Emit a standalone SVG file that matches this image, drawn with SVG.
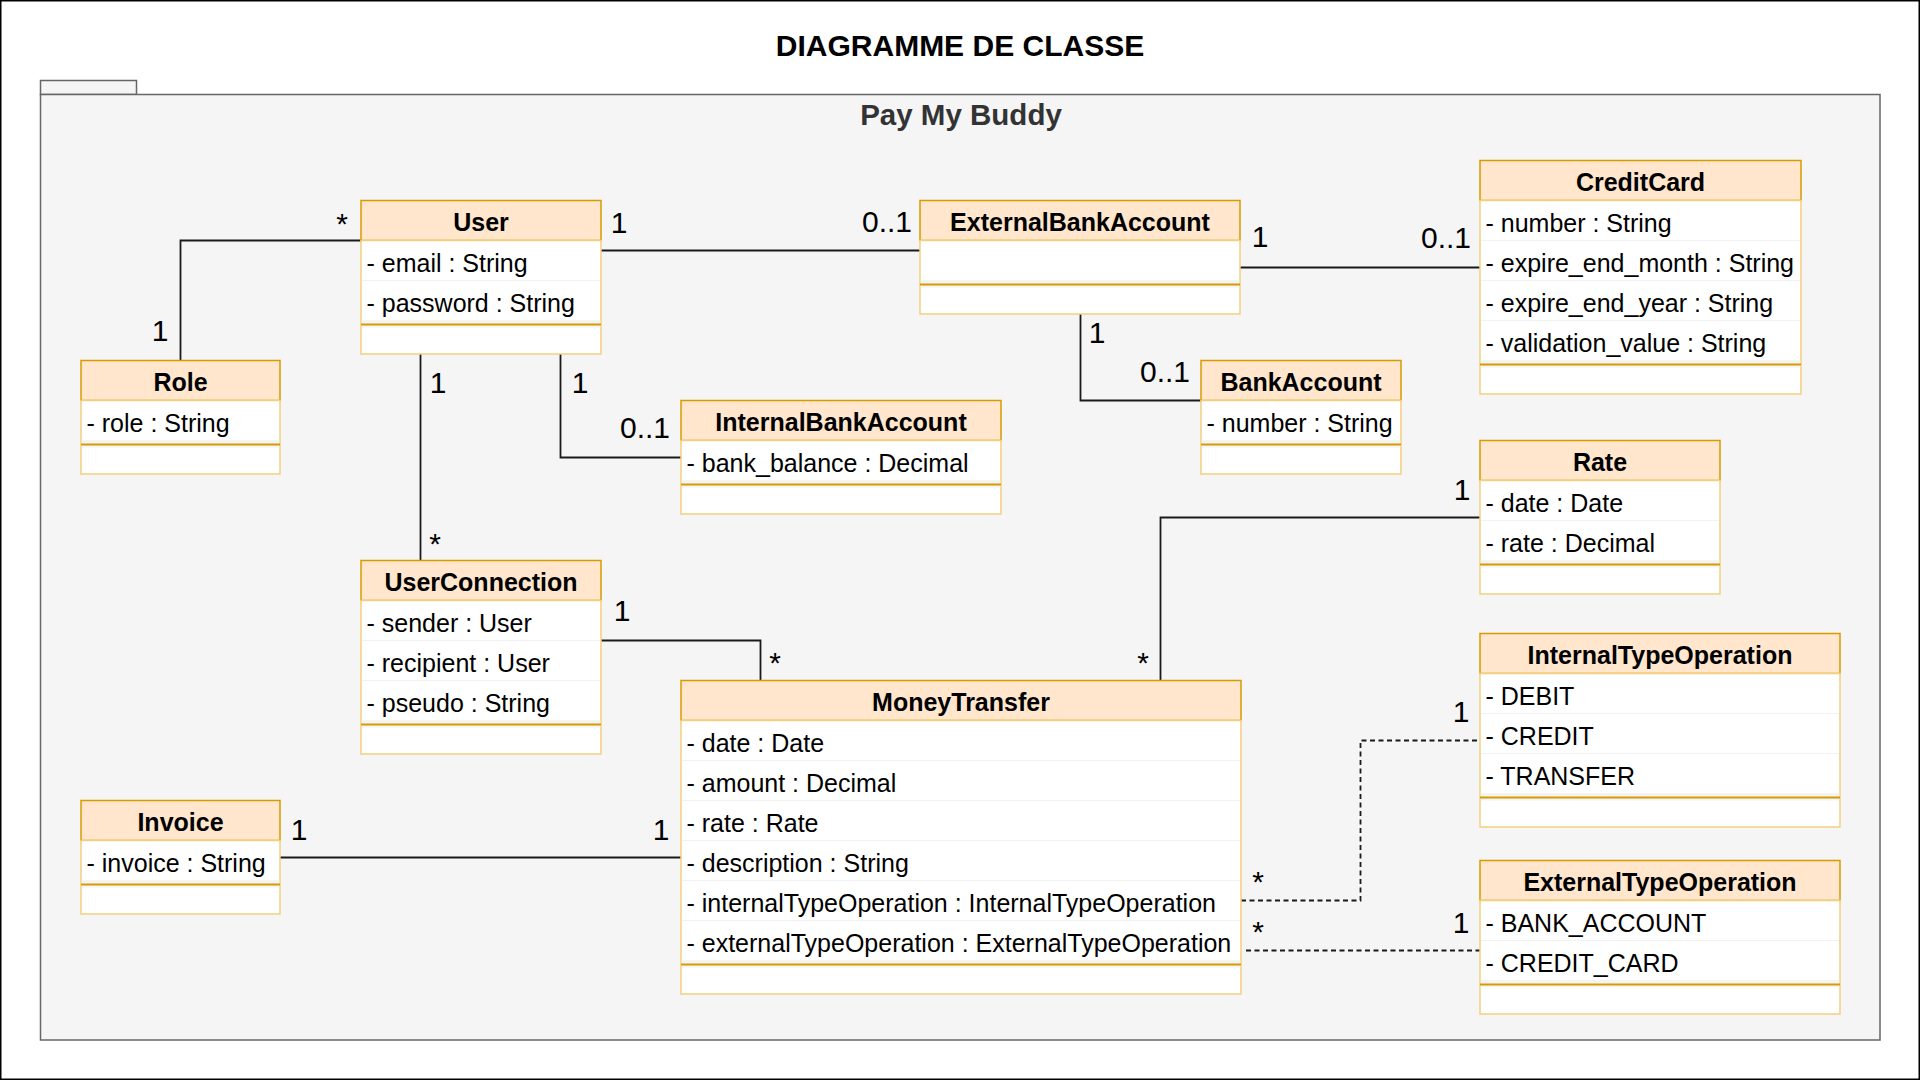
<svg xmlns="http://www.w3.org/2000/svg" width="1920" height="1080" viewBox="0 0 1920 1080">
<style>
.frame{fill:#ffffff;stroke:#000000;stroke-width:1.5}
.pkg{fill:#f5f5f5;stroke:#666666;stroke-width:1.5}
.title{font-family:"Liberation Sans",Arial,sans-serif;font-weight:bold;font-size:30px;fill:#000000}
.pkgname{font-family:"Liberation Sans",Arial,sans-serif;font-weight:bold;font-size:29.5px;fill:#333333}
.hdr{fill:#ffe6cc;stroke:#d79b00;stroke-width:1.5}
.body{fill:#ffffff;stroke:#f2cf7d;stroke-width:1.5}
.band{fill:#f4f4f4;stroke:none}
.sep{stroke:#d79b00;stroke-width:1.8;fill:none}
.rowline{stroke:#f1f1f1;stroke-width:1;fill:none}
.cname{font-family:"Liberation Sans",Arial,sans-serif;font-weight:bold;font-size:25px;fill:#000000;text-anchor:middle}
.attr{font-family:"Liberation Sans",Arial,sans-serif;font-size:25px;fill:#000000}
.conn{fill:none;stroke:#1a1a1a;stroke-width:1.8}
.dash{fill:none;stroke:#1a1a1a;stroke-width:1.8;stroke-dasharray:5 3.5}
.mult{font-family:"Liberation Sans",Arial,sans-serif;font-size:30px;fill:#000000}
.m{text-anchor:middle}
.e{text-anchor:end}
</style>
<rect class="frame" x="0.75" y="0.75" width="1918.5" height="1078.5"/>
<text class="title" x="960" y="56" text-anchor="middle">DIAGRAMME DE CLASSE</text>
<g id="package">
<rect class="pkg" x="40.5" y="80.5" width="96" height="14"/>
<rect class="pkg" x="40.5" y="94.5" width="1839.5" height="945.5"/>
<text class="pkgname" x="961" y="124.5" text-anchor="middle">Pay My Buddy</text>
</g>

<g id="connectors">
<path class="conn" d="M361,240.5 H180.5 V360.5"/>
<path class="conn" d="M601,250.5 H920"/>
<path class="conn" d="M420.5,354 V560"/>
<path class="conn" d="M560.5,354 V457.5 H681"/>
<path class="conn" d="M1240,267.5 H1480"/>
<path class="conn" d="M1080.5,314 V400.5 H1201"/>
<path class="conn" d="M1480,517.5 H1160.5 V680"/>
<path class="conn" d="M601,640.5 H760.5 V680"/>
<path class="conn" d="M280,857.5 H681"/>
<path class="dash" d="M1241,900.5 H1360.5 V740.5 H1480"/>
<path class="dash" d="M1246,950.5 H1480"/>
<text class="mult m" x="342" y="233.5">*</text>
<text class="mult m" x="160" y="341">1</text>
<text class="mult m" x="619" y="233">1</text>
<text class="mult e" x="912" y="232">0..1</text>
<text class="mult m" x="1260" y="247">1</text>
<text class="mult e" x="1471" y="248">0..1</text>
<text class="mult m" x="1097" y="343">1</text>
<text class="mult e" x="1190" y="382">0..1</text>
<text class="mult m" x="438" y="393">1</text>
<text class="mult m" x="580" y="393">1</text>
<text class="mult e" x="670" y="438">0..1</text>
<text class="mult m" x="435" y="553.5">*</text>
<text class="mult m" x="622" y="621">1</text>
<text class="mult m" x="775" y="673">*</text>
<text class="mult m" x="1143" y="673">*</text>
<text class="mult m" x="1462" y="499.5">1</text>
<text class="mult m" x="299" y="840">1</text>
<text class="mult m" x="661" y="840">1</text>
<text class="mult m" x="1258" y="891.5">*</text>
<text class="mult m" x="1258" y="941.5">*</text>
<text class="mult m" x="1461" y="933">1</text>
<text class="mult m" x="1461" y="722">1</text>
</g>

<g id="Role">
<rect class="hdr" x="81" y="360.5" width="199" height="40"/>
<rect class="body" x="81" y="400.5" width="199" height="73.5"/>
<rect class="band" x="81.8" y="440" width="197.4" height="7.5"/>
<line class="sep" x1="81" y1="444.5" x2="280" y2="444.5"/>
<text class="cname" x="180.5" y="391">Role</text>
<text class="attr" x="86.5" y="431.5">- role : String</text>
</g>

<g id="User">
<rect class="hdr" x="361" y="200.5" width="240" height="40"/>
<rect class="body" x="361" y="240.5" width="240" height="113.5"/>
<line class="rowline" x1="362" y1="280.5" x2="600" y2="280.5"/>
<rect class="band" x="361.8" y="320" width="238.4" height="7.5"/>
<line class="sep" x1="361" y1="324.5" x2="601" y2="324.5"/>
<text class="cname" x="481" y="231">User</text>
<text class="attr" x="366.5" y="271.5">- email : String</text>
<text class="attr" x="366.5" y="311.5">- password : String</text>
</g>

<g id="InternalBankAccount">
<rect class="hdr" x="681" y="400.5" width="320" height="40"/>
<rect class="body" x="681" y="440.5" width="320" height="73.5"/>
<rect class="band" x="681.8" y="480" width="318.4" height="7.5"/>
<line class="sep" x1="681" y1="484.5" x2="1001" y2="484.5"/>
<text class="cname" x="841" y="431">InternalBankAccount</text>
<text class="attr" x="686.5" y="471.5">- bank_balance : Decimal</text>
</g>

<g id="ExternalBankAccount">
<rect class="hdr" x="920" y="200.5" width="320" height="40"/>
<rect class="body" x="920" y="240.5" width="320" height="73.5"/>
<rect class="band" x="920.8" y="280" width="318.4" height="7.5"/>
<line class="sep" x1="920" y1="284.5" x2="1240" y2="284.5"/>
<text class="cname" x="1080" y="231">ExternalBankAccount</text>
</g>

<g id="CreditCard">
<rect class="hdr" x="1480" y="160.5" width="321" height="40"/>
<rect class="body" x="1480" y="200.5" width="321" height="193.5"/>
<line class="rowline" x1="1481" y1="240.5" x2="1800" y2="240.5"/>
<line class="rowline" x1="1481" y1="280.5" x2="1800" y2="280.5"/>
<line class="rowline" x1="1481" y1="320.5" x2="1800" y2="320.5"/>
<rect class="band" x="1480.8" y="360" width="319.4" height="7.5"/>
<line class="sep" x1="1480" y1="364.5" x2="1801" y2="364.5"/>
<text class="cname" x="1640.5" y="191">CreditCard</text>
<text class="attr" x="1485.5" y="231.5">- number : String</text>
<text class="attr" x="1485.5" y="271.5">- expire_end_month : String</text>
<text class="attr" x="1485.5" y="311.5">- expire_end_year : String</text>
<text class="attr" x="1485.5" y="351.5">- validation_value : String</text>
</g>

<g id="BankAccount">
<rect class="hdr" x="1201" y="360.5" width="200" height="40"/>
<rect class="body" x="1201" y="400.5" width="200" height="73.5"/>
<rect class="band" x="1201.8" y="440" width="198.4" height="7.5"/>
<line class="sep" x1="1201" y1="444.5" x2="1401" y2="444.5"/>
<text class="cname" x="1301" y="391">BankAccount</text>
<text class="attr" x="1206.5" y="431.5">- number : String</text>
</g>

<g id="Rate">
<rect class="hdr" x="1480" y="440.5" width="240" height="40"/>
<rect class="body" x="1480" y="480.5" width="240" height="113.5"/>
<line class="rowline" x1="1481" y1="520.5" x2="1719" y2="520.5"/>
<rect class="band" x="1480.8" y="560" width="238.4" height="7.5"/>
<line class="sep" x1="1480" y1="564.5" x2="1720" y2="564.5"/>
<text class="cname" x="1600" y="471">Rate</text>
<text class="attr" x="1485.5" y="511.5">- date : Date</text>
<text class="attr" x="1485.5" y="551.5">- rate : Decimal</text>
</g>

<g id="UserConnection">
<rect class="hdr" x="361" y="560.5" width="240" height="40"/>
<rect class="body" x="361" y="600.5" width="240" height="153.5"/>
<line class="rowline" x1="362" y1="640.5" x2="600" y2="640.5"/>
<line class="rowline" x1="362" y1="680.5" x2="600" y2="680.5"/>
<rect class="band" x="361.8" y="720" width="238.4" height="7.5"/>
<line class="sep" x1="361" y1="724.5" x2="601" y2="724.5"/>
<text class="cname" x="481" y="591">UserConnection</text>
<text class="attr" x="366.5" y="631.5">- sender : User</text>
<text class="attr" x="366.5" y="671.5">- recipient : User</text>
<text class="attr" x="366.5" y="711.5">- pseudo : String</text>
</g>

<g id="MoneyTransfer">
<rect class="hdr" x="681" y="680.5" width="560" height="40"/>
<rect class="body" x="681" y="720.5" width="560" height="273.5"/>
<line class="rowline" x1="682" y1="760.5" x2="1240" y2="760.5"/>
<line class="rowline" x1="682" y1="800.5" x2="1240" y2="800.5"/>
<line class="rowline" x1="682" y1="840.5" x2="1240" y2="840.5"/>
<line class="rowline" x1="682" y1="880.5" x2="1240" y2="880.5"/>
<line class="rowline" x1="682" y1="920.5" x2="1240" y2="920.5"/>
<rect class="band" x="681.8" y="960" width="558.4" height="7.5"/>
<line class="sep" x1="681" y1="964.5" x2="1241" y2="964.5"/>
<text class="cname" x="961" y="711">MoneyTransfer</text>
<text class="attr" x="686.5" y="751.5">- date : Date</text>
<text class="attr" x="686.5" y="791.5">- amount : Decimal</text>
<text class="attr" x="686.5" y="831.5">- rate : Rate</text>
<text class="attr" x="686.5" y="871.5">- description : String</text>
<text class="attr" x="686.5" y="911.5">- internalTypeOperation : InternalTypeOperation</text>
<text class="attr" x="686.5" y="951.5">- externalTypeOperation : ExternalTypeOperation</text>
</g>

<g id="Invoice">
<rect class="hdr" x="81" y="800.5" width="199" height="40"/>
<rect class="body" x="81" y="840.5" width="199" height="73.5"/>
<rect class="band" x="81.8" y="880" width="197.4" height="7.5"/>
<line class="sep" x1="81" y1="884.5" x2="280" y2="884.5"/>
<text class="cname" x="180.5" y="831">Invoice</text>
<text class="attr" x="86.5" y="871.5">- invoice : String</text>
</g>

<g id="InternalTypeOperation">
<rect class="hdr" x="1480" y="633.5" width="360" height="40"/>
<rect class="body" x="1480" y="673.5" width="360" height="153.5"/>
<line class="rowline" x1="1481" y1="713.5" x2="1839" y2="713.5"/>
<line class="rowline" x1="1481" y1="753.5" x2="1839" y2="753.5"/>
<rect class="band" x="1480.8" y="793" width="358.4" height="7.5"/>
<line class="sep" x1="1480" y1="797.5" x2="1840" y2="797.5"/>
<text class="cname" x="1660" y="664">InternalTypeOperation</text>
<text class="attr" x="1485.5" y="704.5">- DEBIT</text>
<text class="attr" x="1485.5" y="744.5">- CREDIT</text>
<text class="attr" x="1485.5" y="784.5">- TRANSFER</text>
</g>

<g id="ExternalTypeOperation">
<rect class="hdr" x="1480" y="860.5" width="360" height="40"/>
<rect class="body" x="1480" y="900.5" width="360" height="113.5"/>
<line class="rowline" x1="1481" y1="940.5" x2="1839" y2="940.5"/>
<rect class="band" x="1480.8" y="980" width="358.4" height="7.5"/>
<line class="sep" x1="1480" y1="984.5" x2="1840" y2="984.5"/>
<text class="cname" x="1660" y="891">ExternalTypeOperation</text>
<text class="attr" x="1485.5" y="931.5">- BANK_ACCOUNT</text>
<text class="attr" x="1485.5" y="971.5">- CREDIT_CARD</text>
</g>
</svg>
